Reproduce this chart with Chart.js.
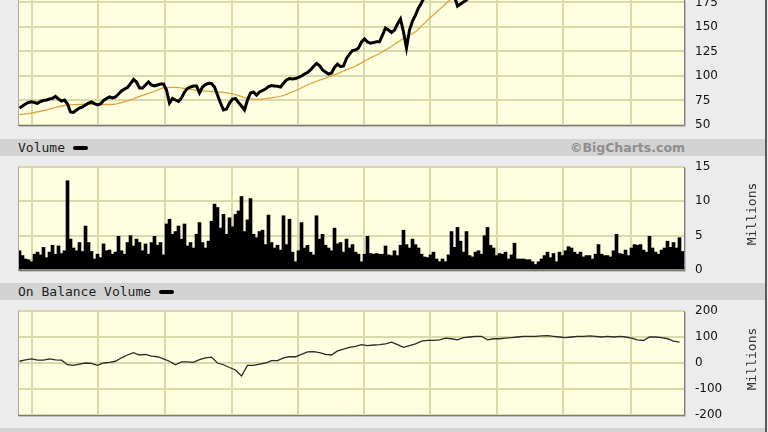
<!DOCTYPE html>
<html>
<head>
<meta charset="utf-8">
<script src="https://cdn.jsdelivr.net/npm/chart.js@4.4.1/dist/chart.umd.min.js"></script>
<style>
  body { margin: 0; background: #ececec; width: 768px; height: 432px; overflow: hidden; position: relative; }
  canvas { position: absolute; left: 0; }
  .bar { position: absolute; left: 0; width: 765px; height: 17px; background: #d3d3d3; }
  .lbl { position: absolute; left: 18px; font: 13px "DejaVu Sans Mono", monospace; color: #1e1e1e; line-height: 17px; }
  .mark { display: inline-block; width: 15px; height: 4px; background: #000; border-radius: 2px; vertical-align: middle; margin-left: 8px; position: relative; top: -1px; }
  .copy { position: absolute; right: 83px; font: bold 12.5px "DejaVu Sans", sans-serif; color: #8e8e8e; line-height: 17px; }
  .unit { position: absolute; left: 717px; width: 70px; text-align: center; font: 13px "DejaVu Sans Mono", monospace; color: #333; line-height: 16px; transform: rotate(-90deg); }
  .edge { position: absolute; left: 765px; top: 0; width: 2px; height: 432px; background: #5a5a5a; }
  .foot { position: absolute; left: 0; top: 428px; width: 765px; height: 4px; background: #d3d3d3; }
</style>
</head>
<body>
<canvas id="price" width="768" height="148" style="top:-20px"></canvas>

<div class="bar" style="top:139px"></div>
<div class="lbl" style="top:139px">Volume<span class="mark"></span></div>
<div class="copy" style="top:139px">©BigCharts.com</div>
<canvas id="volume" width="768" height="118" style="top:155px"></canvas>
<div class="unit" style="top:206px">Millions</div>

<div class="bar" style="top:283px"></div>
<div class="lbl" style="top:283px">On Balance Volume<span class="mark"></span></div>
<canvas id="obv" width="768" height="118" style="top:300px"></canvas>
<div class="unit" style="top:351px">Millions</div>

<div class="foot"></div>
<div class="edge"></div>

<script>
// one sample = one 3px column of the plot; 222 columns across the chart
const SAMPLES = 222;
// sample index where each year starts (vertical gridlines)
const yearStarts = [4.57, 26.83, 49.0, 71.17, 93.27, 115.33, 137.43, 159.67, 181.83, 204.17];

// daily close, one value per column; the tail runs above the cropped top of the picture
const priceVals = [
  67.3, 69.4, 71.4, 73.0, 73.8, 73.0, 72.1, 74.0, 75.0, 75.5,
  76.5, 77.2, 79.3, 76.5, 74.5, 75.5, 71.4, 63.3, 62.8, 65.3,
  67.3, 68.4, 70.4, 72.4, 73.5, 71.9, 70.4, 71.4, 75.0, 77.0,
  78.6, 77.6, 78.6, 81.6, 84.7, 86.7, 88.3, 92.3, 96.4, 93.9,
  87.8, 87.8, 90.8, 93.9, 90.8, 89.8, 90.8, 91.8, 91.8, 85.7,
  72.4, 77.0, 75.5, 74.0, 77.6, 83.7, 87.4, 88.8, 89.8, 89.8,
  82.7, 88.8, 91.3, 92.6, 92.3, 88.8, 80.6, 72.4, 65.3, 66.3,
  72.4, 76.5, 77.0, 73.0, 69.4, 65.3, 75.5, 82.7, 83.7, 80.6,
  83.7, 85.2, 86.7, 89.3, 90.3, 89.8, 89.5, 88.8, 92.6, 95.9,
  97.4, 96.9, 97.4, 98.5, 100.0, 102.0, 103.6, 106.1, 109.7, 112.8,
  110.7, 106.1, 104.1, 102.0, 103.1, 108.7, 112.2, 109.5, 110.2, 117.9,
  122.4, 126.0, 126.5, 128.6, 134.7, 137.8, 134.7, 133.4, 134.1, 135.0,
  135.0, 141.8, 149.0, 146.9, 144.4, 146.9, 153.1, 158.2, 144.9, 128.6,
  146.9, 156.1, 162.2, 169.4, 174.5, 181, 181, 181, 181, 181,
  181, 181, 181, 181, 181, 181, 171.4, 173.5, 175.5, 177.6,
  182
];

// moving average, one value every 4 columns
const MA_STEP = 4;
const maVals = [
  60.7, 62.2, 64.8, 67.9, 70.4, 71.1, 71.1, 70.9, 71.4, 74.5,
  79.1, 83.2, 87.8, 88.3, 86.7, 85.0, 84.2, 83.2, 81.1, 77.0,
  76.2, 77.6, 80.1, 85.2, 90.8, 95.9, 100.0, 105.1, 110.2, 116.8,
  123.0, 130.1, 138.5, 145.2, 157.0, 168.0, 179.0
];

// volume in millions, one value per column
const volumeM = [
  2.8, 2.1, 1.6, 1.5, 1.2, 2.3, 2.6, 2.2, 3.3, 1.8,
  2.6, 3.6, 2.3, 3.5, 2.4, 2.8, 13.0, 4.5, 3.2, 2.8,
  4.0, 2.7, 6.4, 4.0, 2.7, 1.6, 2.3, 1.8, 3.8, 2.8,
  2.9, 2.3, 2.6, 4.9, 2.8, 2.3, 4.0, 5.0, 3.5, 4.5,
  4.0, 2.8, 3.8, 2.3, 4.0, 4.9, 3.6, 4.0, 2.2, 6.7,
  7.4, 5.2, 5.6, 6.4, 4.5, 6.7, 3.5, 4.0, 3.2, 5.2,
  6.9, 4.0, 3.2, 4.2, 7.1, 9.6, 9.1, 6.1, 8.1, 5.2,
  7.6, 6.3, 8.1, 8.6, 10.7, 5.6, 7.3, 10.4, 5.2, 4.7,
  5.6, 5.8, 3.7, 8.0, 4.0, 3.2, 3.6, 2.9, 7.9, 3.7,
  7.4, 2.6, 1.2, 2.8, 6.9, 3.2, 3.6, 2.6, 2.2, 7.9,
  4.5, 5.2, 3.6, 3.2, 2.8, 6.1, 3.8, 4.0, 2.6, 4.5,
  3.2, 3.7, 2.6, 2.3, 1.2, 2.3, 4.9, 2.4, 2.3, 2.4,
  2.3, 2.3, 3.5, 2.2, 2.1, 2.8, 2.1, 3.6, 5.8, 3.7,
  3.2, 4.5, 3.7, 3.2, 2.3, 1.9, 1.8, 2.2, 2.6, 1.6,
  1.2, 1.6, 1.2, 2.2, 5.6, 3.3, 6.2, 4.2, 2.6, 5.6,
  2.1, 1.9, 2.6, 2.8, 2.3, 5.0, 6.2, 3.6, 3.2, 2.1,
  2.4, 2.3, 2.6, 1.6, 2.2, 3.9, 1.6, 1.6, 1.6, 1.5,
  1.5, 1.2, 0.8, 1.2, 1.6, 2.1, 2.6, 1.8, 2.4, 1.2,
  2.6, 2.1, 2.8, 3.4, 3.2, 2.6, 2.3, 2.6, 1.9, 2.1,
  2.1, 1.6, 2.3, 3.7, 2.3, 2.1, 2.1, 1.9, 2.8, 5.2,
  2.4, 2.3, 2.9, 2.1, 3.2, 3.7, 3.6, 3.7, 2.9, 2.6,
  4.9, 3.2, 2.6, 2.3, 2.9, 3.2, 4.2, 3.3, 4.0, 3.2,
  4.7, 2.7
];

// on balance volume in millions, one value every 2 columns
const OBV_STEP = 2;
const obvM = [
  6.7, 12, 16, 10.7, 10.7, 16, 12, 10.7, -6.7, -9.3,
  -4, 0, -1.3, -9.3, 0, 2.7, 6.7, 20, 30.7, 40,
  30.7, 33.3, 26.7, 24, 16, 6.7, -6.7, 4, 4, 2.7,
  13.3, 20, 22.7, 0, -6.7, -17.3, -26.7, -50, -9.3, -9.3,
  -4, 0, 9.3, 9.3, 20, 24, 24, 33.3, 42.7, 44,
  40, 33.3, 30.7, 46.7, 53.3, 60, 64, 70.7, 66.7, 69.3,
  70.7, 73.3, 80, 70.7, 60, 66.7, 73.3, 84, 86.7, 86.7,
  89.3, 96, 93.3, 89.3, 97.3, 100, 102.7, 102.7, 89.3, 93.3,
  93.3, 96, 97.3, 100, 102.7, 102.7, 102.7, 104, 105.3, 102.7,
  100, 97.3, 100, 102.7, 102.7, 104, 102.7, 100, 102.7, 100,
  102.7, 100, 96, 89.3, 86.7, 100, 100, 97.3, 93.3, 84,
  80
];

const priceTicks = [50, 75, 100, 125, 150, 175];
const volumeTicks = [0, 5, 10, 15];
const obvTicks = [-200, -100, 0, 100, 200];

const GRID = '#d9d9a9';
const PANEL = '#fefee0';

const toPoints = (vals, step) => vals.map((v, i) => ({ x: i * step + 0.5, y: v }));

const framePlugin = {
  id: 'frame',
  beforeDraw(chart) {
    const a = chart.chartArea, ctx = chart.ctx;
    ctx.save();
    ctx.fillStyle = PANEL;
    ctx.fillRect(a.left, a.top, a.right - a.left, a.bottom - a.top);
    ctx.restore();
  },
  afterDraw(chart) {
    const a = chart.chartArea, ctx = chart.ctx;
    ctx.save();
    ctx.lineWidth = 1;
    ctx.strokeStyle = '#a9a9a0';
    ctx.beginPath(); ctx.moveTo(a.left + 0.5, a.top); ctx.lineTo(a.left + 0.5, a.bottom); ctx.stroke();
    ctx.strokeStyle = '#7a7a7a';
    ctx.beginPath();
    ctx.moveTo(a.left, a.bottom + 0.5); ctx.lineTo(a.right + 0.5, a.bottom + 0.5);
    ctx.moveTo(a.right + 0.5, a.top); ctx.lineTo(a.right + 0.5, a.bottom + 0.5);
    ctx.stroke();
    ctx.strokeStyle = '#c2c2c2';
    ctx.beginPath();
    ctx.moveTo(a.left + 1, a.bottom + 1.5); ctx.lineTo(a.right + 1.5, a.bottom + 1.5);
    ctx.moveTo(a.right + 1.5, a.top + 1); ctx.lineTo(a.right + 1.5, a.bottom + 1.5);
    ctx.stroke();
    ctx.restore();
  }
};

function xAxis() {
  return {
    type: 'linear', min: 0, max: SAMPLES, offset: false,
    ticks: { display: false },
    grid: { color: GRID, lineWidth: 2, drawTicks: false, offset: false },
    border: { display: false },
    afterBuildTicks: s => { s.ticks = yearStarts.map(v => ({ value: v })); },
    afterFit: s => { s.height = 0; s.paddingLeft = 0; s.paddingRight = 0; }
  };
}

function yAxis(min, max, ticks) {
  return {
    position: 'right', min: min, max: max,
    ticks: { color: '#111', font: { family: 'DejaVu Sans', size: 12 }, padding: 11, autoSkip: false },
    grid: { color: GRID, lineWidth: 2, drawTicks: false },
    border: { display: false },
    afterBuildTicks: s => { s.ticks = ticks.map(v => ({ value: v })); },
    // keep the plot edges where the picture has them, labels may overhang
    afterFit: s => { s.width = 84; s.paddingTop = 0; s.paddingBottom = 0; }
  };
}

function baseOptions(y, padTop) {
  return {
    responsive: false,
    animation: false,
    events: [],
    layout: { padding: { left: 18, right: 0, top: padTop, bottom: 3 } },
    plugins: { legend: { display: false }, tooltip: { enabled: false } },
    scales: { x: xAxis(), y: y }
  };
}

new Chart(document.getElementById('price'), {
  type: 'line',
  data: {
    datasets: [
      { data: toPoints(priceVals, 1), borderColor: '#000', borderWidth: 3, pointRadius: 0, tension: 0 },
      { data: toPoints(maVals, MA_STEP), borderColor: '#e0a33c', borderWidth: 1.3, pointRadius: 0, tension: 0.3 }
    ]
  },
  options: baseOptions(yAxis(50, 177.55, priceTicks), 20),
  plugins: [framePlugin]
});

new Chart(document.getElementById('volume'), {
  type: 'bar',
  data: {
    datasets: [{
      data: toPoints(volumeM, 1), backgroundColor: '#000', borderWidth: 0,
      barPercentage: 1, categoryPercentage: 1, grouped: false
    }]
  },
  options: baseOptions(yAxis(0, 15, volumeTicks), 12),
  plugins: [framePlugin]
});

new Chart(document.getElementById('obv'), {
  type: 'line',
  data: {
    datasets: [{ data: toPoints(obvM, OBV_STEP), borderColor: '#2a2a2a', borderWidth: 1.3, pointRadius: 0, tension: 0 }]
  },
  options: baseOptions(yAxis(-200, 200, obvTicks), 11),
  plugins: [framePlugin]
});
</script>
</body>
</html>
